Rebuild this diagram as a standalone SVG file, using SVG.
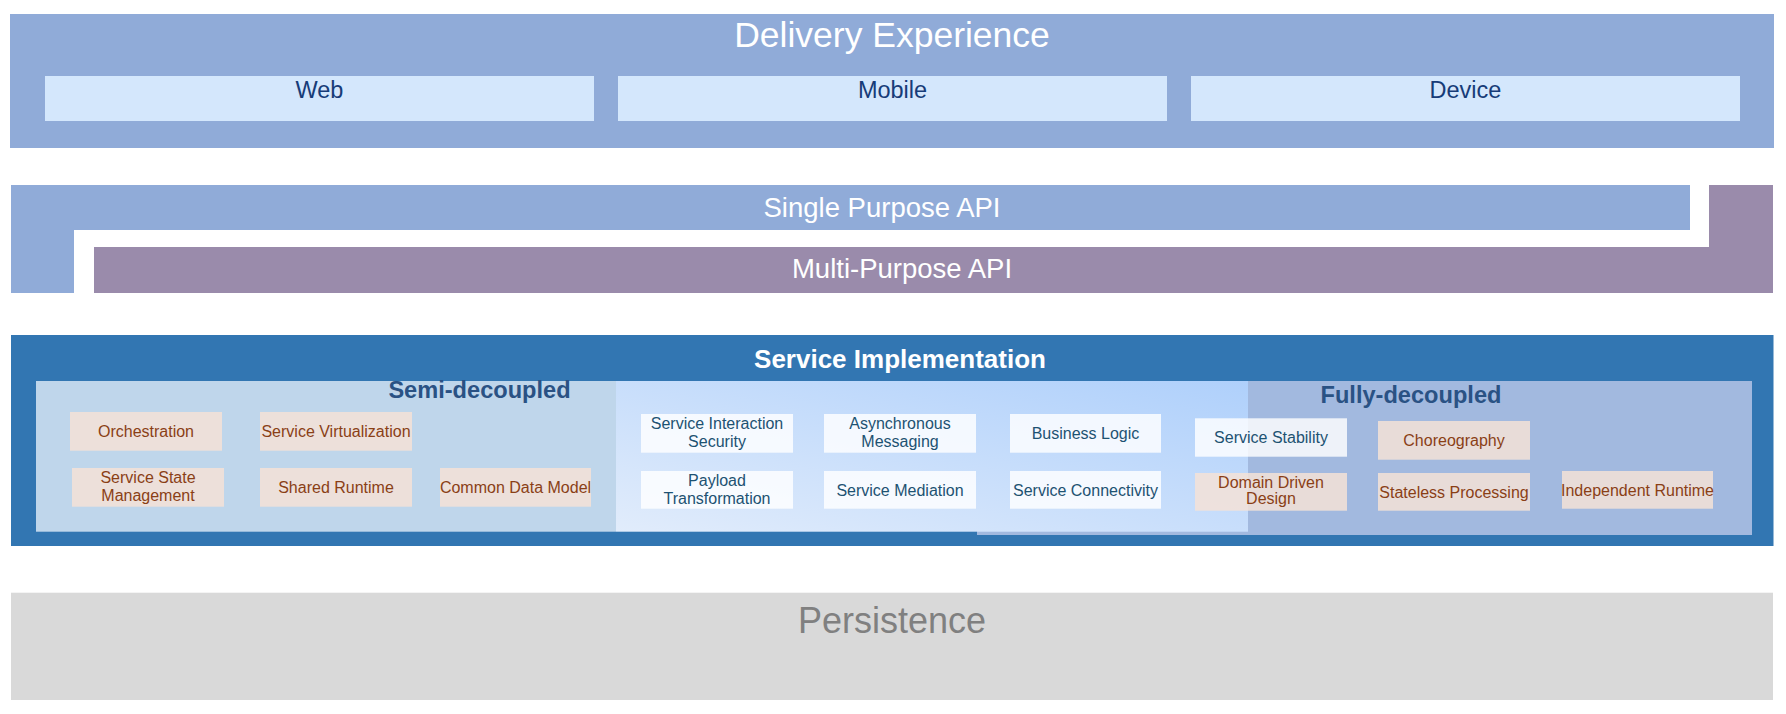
<svg xmlns="http://www.w3.org/2000/svg" width="1786" height="714" viewBox="0 0 1786 714">
<defs>
<linearGradient id="midGrad" x1="0" y1="1" x2="1" y2="0">
<stop offset="0" stop-color="#e1ecfb"/>
<stop offset="1" stop-color="#afd0fb"/>
</linearGradient>
<style>
text{font-family:"Liberation Sans",Arial,sans-serif;text-anchor:middle}
.layer-title{fill:#ffffff;font-size:35.5px}
.api-title{fill:#ffffff;font-size:27.5px}
.channel{fill:#d4e7fc}
.channel-text{fill:#173c78;font-size:23.5px}
.zone-title{fill:#2a5284;font-size:23.6px;font-weight:bold}
.peach{fill:#f5e2d7;fill-opacity:0.85}
.peach-text{fill:#8a3f16;font-size:16px}
.white{fill:#ffffff;fill-opacity:0.82}
.white-text{fill:#1d5272;font-size:16px}
</style>
</defs>

<g id="delivery">
<rect x="10" y="14" width="1764" height="134" fill="#90abd8"/>
<text class="layer-title" x="892" y="46.5">Delivery Experience</text>
</g>
<g id="web">
<rect class="channel" x="45" y="76" width="549" height="45"/>
<text class="channel-text" x="319.5" y="97.5">Web</text>
</g>
<g id="mobile">
<rect class="channel" x="618" y="76" width="549" height="45"/>
<text class="channel-text" x="892.5" y="97.5">Mobile</text>
</g>
<g id="device">
<rect class="channel" x="1191" y="76" width="549" height="45"/>
<text class="channel-text" x="1465.5" y="97.5">Device</text>
</g>

<g id="single-purpose-api">
<path d="M11,185 H1690 V230 H74 V293 H11 Z" fill="#90abd8"/>
<text class="api-title" x="882" y="216.5">Single Purpose API</text>
</g>
<g id="multi-purpose-api">
<path d="M1709,185 H1773 V293 H94 V247 H1709 Z" fill="#9a8bab"/>
<text class="api-title" x="902" y="278">Multi-Purpose API</text>
</g>

<g id="service-implementation">
<rect x="11" y="335" width="1762.5" height="211" fill="#3276b2"/>
<text x="900" y="368.3" fill="#ffffff" font-size="26" font-weight="bold">Service Implementation</text>
</g>
<g id="semi-decoupled">
<rect x="36" y="381" width="580" height="150.7" fill="#bfd6eb"/>
<text class="zone-title" x="479.5" y="398.3">Semi-decoupled</text>
</g>
<g id="fully-decoupled">
<rect x="977" y="381" width="775" height="154" fill="#a2b9df"/>
<text class="zone-title" x="1411" y="402.7">Fully-decoupled</text>
</g>
<g id="core">
<rect x="616" y="381" width="632" height="150.7" fill="url(#midGrad)"/>
</g>

<g id="orchestration">
<rect class="peach" x="70" y="412" width="152" height="38.7"/>
<text class="peach-text" x="146" y="437">Orchestration</text>
</g>
<g id="service-virtualization">
<rect class="peach" x="260" y="412" width="152" height="38.7"/>
<text class="peach-text" x="336" y="437">Service Virtualization</text>
</g>
<g id="service-state-management">
<rect class="peach" x="72" y="468" width="152" height="38.7"/>
<text class="peach-text" x="148" y="482.8">Service State</text>
<text class="peach-text" x="148" y="500.5">Management</text>
</g>
<g id="shared-runtime">
<rect class="peach" x="260" y="468" width="152" height="38.7"/>
<text class="peach-text" x="336" y="493">Shared Runtime</text>
</g>
<g id="common-data-model">
<rect class="peach" x="440" y="468" width="151" height="38.7"/>
<text class="peach-text" x="515.5" y="493">Common Data Model</text>
</g>

<g id="service-interaction-security">
<rect class="white" x="641" y="414" width="152" height="38.7"/>
<text class="white-text" x="717" y="429">Service Interaction</text>
<text class="white-text" x="717" y="446.7">Security</text>
</g>
<g id="asynchronous-messaging">
<rect class="white" x="824" y="414" width="152" height="38.7"/>
<text class="white-text" x="900" y="429">Asynchronous</text>
<text class="white-text" x="900" y="446.7">Messaging</text>
</g>
<g id="business-logic">
<rect class="white" x="1010" y="414" width="151" height="38.7"/>
<text class="white-text" x="1085.5" y="439">Business Logic</text>
</g>
<g id="payload-transformation">
<rect class="white" x="641" y="471" width="152" height="37.7"/>
<text class="white-text" x="717" y="486">Payload</text>
<text class="white-text" x="717" y="503.7">Transformation</text>
</g>
<g id="service-mediation">
<rect class="white" x="824" y="471" width="152" height="37.7"/>
<text class="white-text" x="900" y="496">Service Mediation</text>
</g>
<g id="service-connectivity">
<rect class="white" x="1010" y="471" width="151" height="37.7"/>
<text class="white-text" x="1085.5" y="496">Service Connectivity</text>
</g>
<g id="service-stability">
<rect class="white" x="1195" y="418.3" width="152" height="38.4"/>
<text class="white-text" x="1271" y="443.3">Service Stability</text>
</g>
<g id="domain-driven-design">
<rect class="peach" x="1195" y="473" width="152" height="37.7"/>
<text class="peach-text" x="1271" y="487.7">Domain Driven</text>
<text class="peach-text" x="1271" y="504.3">Design</text>
</g>
<g id="choreography">
<rect class="peach" x="1378" y="421" width="152" height="38.7"/>
<text class="peach-text" x="1454" y="446">Choreography</text>
</g>
<g id="stateless-processing">
<rect class="peach" x="1378" y="473" width="152" height="37.7"/>
<text class="peach-text" x="1454" y="497.5">Stateless Processing</text>
</g>
<g id="independent-runtime">
<rect class="peach" x="1562" y="471" width="151" height="37.7"/>
<text class="peach-text" x="1637.5" y="495.5">Independent Runtime</text>
</g>

<g id="persistence">
<rect x="11" y="592.7" width="1762" height="107.3" fill="#d9d9d9"/>
<text x="892" y="632.7" fill="#808080" font-size="36">Persistence</text>
</g>

<g id="connectors"></g>
</svg>
